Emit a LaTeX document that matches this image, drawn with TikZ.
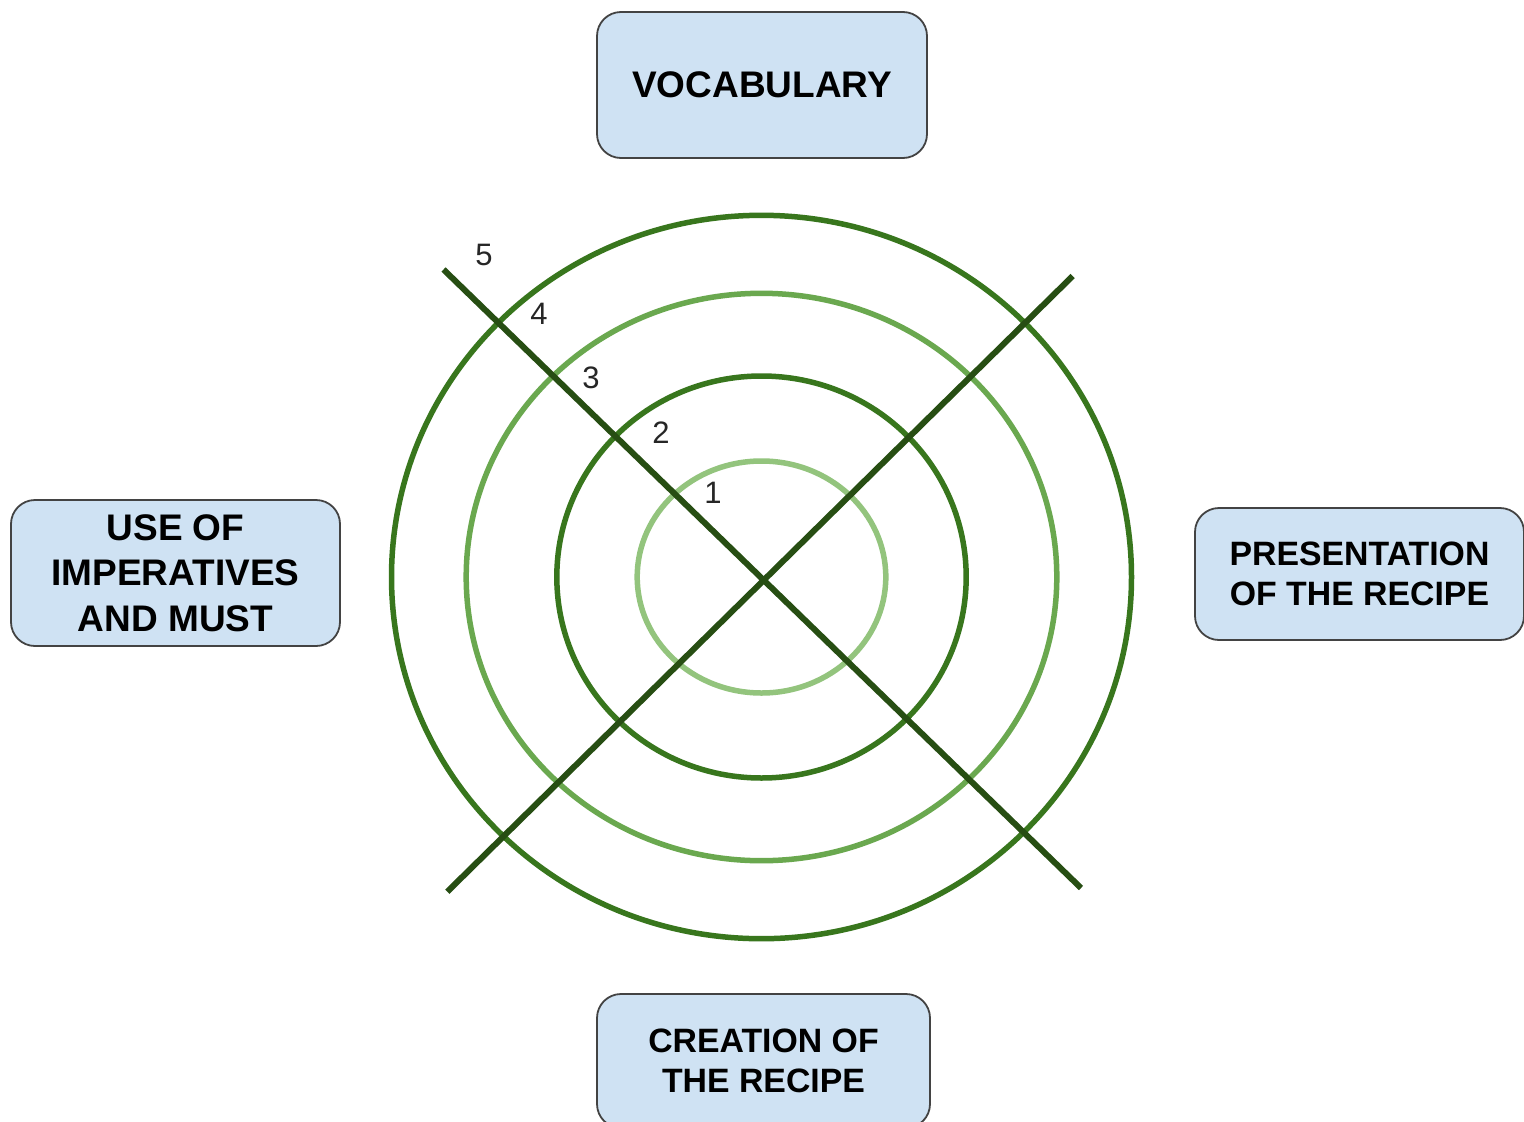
\documentclass[tikz,border=0pt]{standalone}
\usepackage{fontspec}
\setmainfont{Liberation Sans}
\definecolor{boxfill}{HTML}{CFE2F3}
\definecolor{boxline}{HTML}{434343}
\definecolor{gdark}{HTML}{38761D}
\definecolor{gmid}{HTML}{6AA84F}
\definecolor{glight}{HTML}{93C47D}
\definecolor{gline}{HTML}{274E13}
\tikzset{
  topic/.style={draw=boxline, line width=1.8pt, fill=boxfill, rounded corners=24pt,
    align=center, inner sep=0pt, text=black},
  bigfont/.style={font=\bfseries\fontsize{37}{45.5}\selectfont},
  smallfont/.style={font=\bfseries\fontsize{33.8}{40.5}\selectfont},
  ring/.style={line width=5.5pt},
  axis/.style={draw=gline, line width=6pt},
  level/.style={font=\fontsize{31}{31}\selectfont, text=black!85, inner sep=0pt}
}
\begin{document}
\begin{tikzpicture}[x=1pt,y=-1pt]
\useasboundingbox (0,0) rectangle (1524,1122);
\clip (0,0) rectangle (1524,1122);
\fill[white] (0,0) rectangle (1524,1122);
% rings
\coordinate (c) at (761.5,577);
\draw[ring, gdark] (c) ellipse [x radius=370, y radius=361.7];
\draw[ring, gmid] (c) ellipse [x radius=295.3, y radius=283.7];
\draw[ring, gdark] (c) ellipse [x radius=204.7, y radius=201];
\draw[ring, glight] (c) ellipse [x radius=124.3, y radius=116];
% axes
\coordinate (a1) at (443.5,269.5);
\coordinate (a2) at (1081,888);
\coordinate (b1) at (447.3,891.7);
\coordinate (b2) at (1072.7,276);
\draw[axis] (a1) -- (a2);
\draw[axis] (b1) -- (b2);
% level numbers
\node[level] (n5) at (484,255) {5};
\node[level] (n4) at (539,314) {4};
\node[level] (n3) at (591,378) {3};
\node[level] (n2) at (661,433) {2};
\node[level] (n1) at (713,493) {1};
% topic boxes
\node[topic, bigfont, minimum width=330pt, minimum height=146pt] (voc) at (762,85) {VOCABULARY};
\node[topic, bigfont, minimum width=329pt, minimum height=146pt] (imp) at (175.5,573) {USE OF\\IMPERATIVES\\AND MUST};
\node[topic, smallfont, minimum width=329pt, minimum height=132pt] (pres) at (1359.5,574) {PRESENTATION\\OF THE RECIPE};
\node[topic, smallfont, minimum width=333pt, minimum height=134pt] (cre) at (763.5,1061) {CREATION OF\\THE RECIPE};
\end{tikzpicture}
\end{document}
